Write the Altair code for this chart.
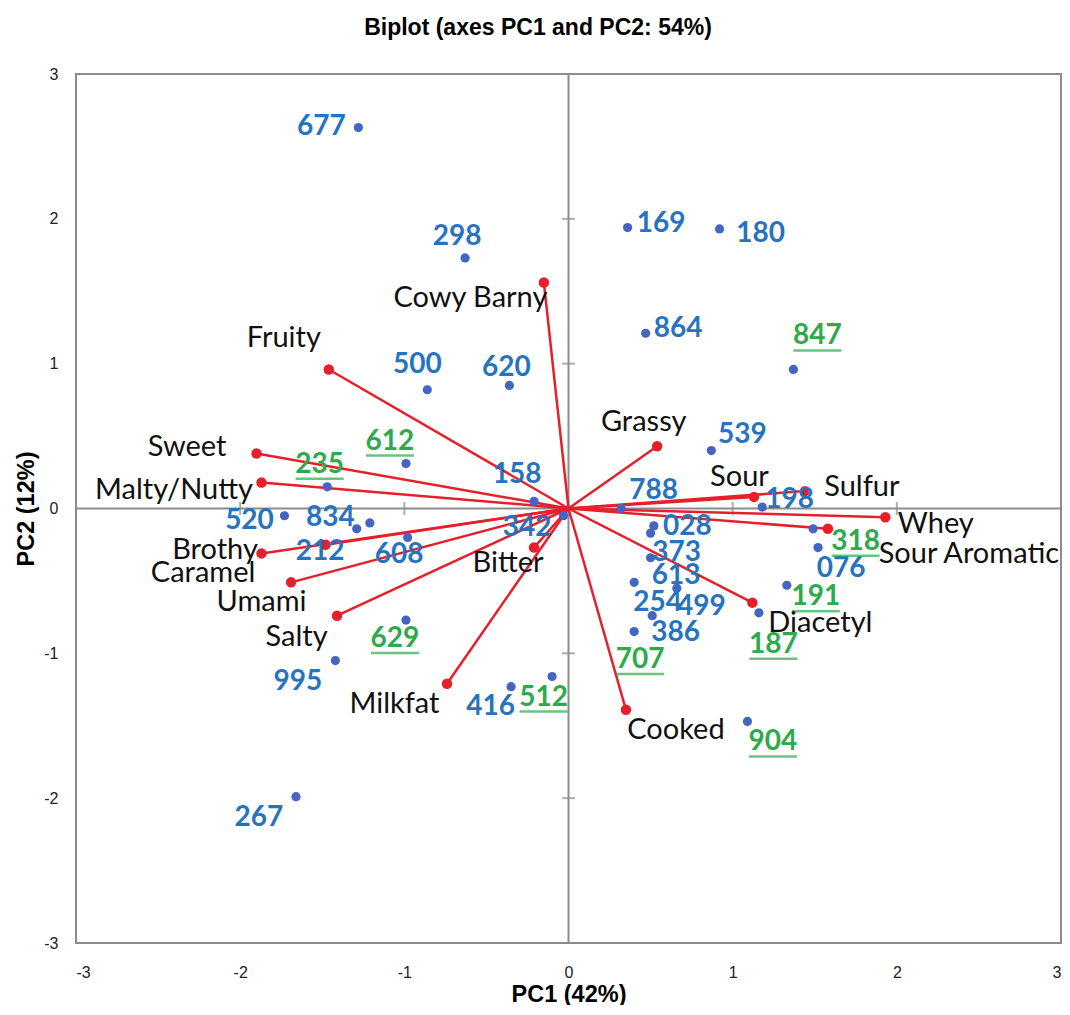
import altair as alt
import pandas as pd

# ---------------- data ----------------
obs_id = ["677", "298", "169", "180", "864", "847", "500", "620", "539", "612",
          "235", "158", "788", "198", "520", "834", "212", "608", "342", "028",
          "707", "373", "613", "499", "254", "386", "318", "076", "191", "187",
          "629", "995", "416", "512", "904", "267"]
obs_pc1 = [-1.28, -0.63, 0.36, 0.92, 0.47, 1.37, -0.86, -0.36, 0.87, -0.99,
           -1.47, -0.21, 0.32, 1.18, -1.73, -1.21, -1.29, -0.98, -0.03, 0.52,
           0.50, 0.50, 0.40, 0.66, 0.51, 0.40, 1.49, 1.52, 1.33, 1.16,
           -0.99, -1.42, -0.35, -0.10, 1.09, -1.66]
obs_pc2 = [2.63, 1.73, 1.94, 1.93, 1.21, 0.96, 0.82, 0.85, 0.40, 0.31,
           0.15, 0.05, 0.00, 0.01, -0.05, -0.10, -0.14, -0.20, -0.05, -0.12,
           -0.17, -0.34, -0.51, -0.55, -0.74, -0.85, -0.14, -0.27, -0.53, -0.72,
           -0.77, -1.05, -1.23, -1.16, -1.47, -1.99]
marked_ids = ["847", "612", "235", "707", "318", "191", "187", "629", "512", "904"]

attr_name = ["Cowy Barny", "Fruity", "Sweet", "Malty/Nutty", "Brothy", "Caramel",
             "Umami", "Salty", "Milkfat", "Bitter", "Grassy", "Sour", "Sulfur",
             "Whey", "Sour Aromatic", "Diacetyl", "Cooked"]
attr_pc1 = [-0.15, -1.46, -1.90, -1.87, -1.87, -1.69, -1.48, -1.41, -0.74, -0.21,
            0.54, 1.13, 1.44, 1.93, 1.58, 1.12, 0.35]
attr_pc2 = [1.56, 0.96, 0.38, 0.18, -0.31, -0.51, -0.25, -0.74, -1.21, -0.27,
            0.43, 0.08, 0.12, -0.06, -0.14, -0.65, -1.39]

axis_values = [-3, -2, -1, 0, 1, 2, 3]
inner_ticks = [-2, -1, 1, 2]

# ---------------- label placement (pixel offsets: right, down) ----------------
obs_dx = [-37, -8, 33.5, 41, 32.5, 24, -10, -3, 31, -16, -7.5, -17, 32.5, 27.5,
          -35, -39.5, -36.5, -8.5, -36.5, 33.5, -10.5, 26, 42, 24.5, 5.5, 41.5,
          42.5, 23, 29, 14.5, -11, -37.5, -20.5, -8.5, 25.5, -37]
obs_dy = [-1, -21, -4, 5, -4, -33, -25, -17, -16, -22, -22, -26, -18, -7, 5, -5,
          23, 18, 12, 1, 127, -5, -6, 19, -13, 1, 13, 21, 12, 32, 19, 21, 20, 21,
          21, 21]
attr_dx = [-73.5, -45, -69.5, -87.5, -46.5, -88, -64, -40.5, -52.5, -26, -13.5,
           -14.5, 57, 50.5, 141, 68, 50]
attr_dy = [15, -31, -6, 8, -3, -9, 57, 21, 20, 15, -24, -20, -4, 7, 25, 20, 20]

W, H = 985, 869
PX_X = W / 6.0
PX_Y = H / 6.0
UNDERLINE_DY = 14

GRAY = "#8C8C8C"
RED = "#E5202B"
DOT_BLUE = "#4466C0"
TXT_BLUE = "#2773BE"
TXT_GREEN = "#2DAA4B"
AX_FONT = "Liberation Sans, Arial, sans-serif"

obs = pd.DataFrame({"id": obs_id, "pc1": obs_pc1, "pc2": obs_pc2,
                    "dx": obs_dx, "dy": obs_dy})
obs["group"] = ["marked" if i in marked_ids else "plain" for i in obs["id"]]
obs["lx"] = obs["pc1"] + obs["dx"] / PX_X
obs["ly"] = obs["pc2"] - obs["dy"] / PX_Y
obs["uy"] = obs["ly"] - UNDERLINE_DY / PX_Y

attr = pd.DataFrame({"name": attr_name, "pc1": attr_pc1, "pc2": attr_pc2,
                     "dx": attr_dx, "dy": attr_dy})
attr["zero"] = 0.0
attr["lx"] = attr["pc1"] + attr["dx"] / PX_X
attr["ly"] = attr["pc2"] - attr["dy"] / PX_Y

xs = alt.Scale(domain=[-3, 3], nice=False, zero=False)
ys = alt.Scale(domain=[-3, 3], nice=False, zero=False)

x_axis = alt.Axis(values=axis_values, labelExpr="'' + datum.value", grid=False,
                  ticks=False, domain=False,
                  labelPadding=21, labelFontSize=16, labelFont=AX_FONT,
                  labelColor="#222222", title="PC1 (42%)", titleFontSize=23.5,
                  titleFont=AX_FONT, titleFontWeight="bold",
                  titleColor="#000000", titleX=W / 2, titleY=51, titleAlign="center",
                  titleBaseline="middle")
y_axis = alt.Axis(values=axis_values, labelExpr="'' + datum.value", grid=False,
                  ticks=False, domain=False,
                  labelPadding=18, labelFontSize=16, labelFont=AX_FONT,
                  labelColor="#222222", title="PC2 (12%)", titleFontSize=23.5,
                  titleFont=AX_FONT, titleFontWeight="bold",
                  titleColor="#000000", titleX=-50, titleY=H / 2, titleAlign="center",
                  titleBaseline="middle", titleAngle=-90)

base_obs = alt.Chart(obs)
base_attr = alt.Chart(attr)
zero_df = pd.DataFrame({"v": [0.0]})
tick_df = pd.DataFrame({"t": inner_ticks, "zero": [0.0] * len(inner_ticks)})

vline = alt.Chart(zero_df).mark_rule(color=GRAY, strokeWidth=2).encode(
    x=alt.X("v:Q", scale=xs, axis=x_axis))
hline = alt.Chart(zero_df).mark_rule(color=GRAY, strokeWidth=2).encode(
    y=alt.Y("v:Q", scale=ys, axis=y_axis))
xticks = alt.Chart(tick_df).mark_tick(orient="vertical", size=13, thickness=2, color=GRAY).encode(
    x=alt.X("t:Q", scale=xs), y=alt.Y("zero:Q", scale=ys))
yticks = alt.Chart(tick_df).mark_tick(orient="horizontal", size=13, thickness=2, color=GRAY).encode(
    x=alt.X("zero:Q", scale=xs), y=alt.Y("t:Q", scale=ys))

vectors = base_attr.mark_rule(color=RED, strokeWidth=2.5).encode(
    x=alt.X("zero:Q", scale=xs), y=alt.Y("zero:Q", scale=ys),
    x2="pc1:Q", y2="pc2:Q")
vec_dots = base_attr.mark_circle(color=RED, size=110, opacity=1).encode(
    x=alt.X("pc1:Q", scale=xs), y=alt.Y("pc2:Q", scale=ys))
obs_dots = base_obs.mark_circle(color=DOT_BLUE, size=85, opacity=1).encode(
    x=alt.X("pc1:Q", scale=xs), y=alt.Y("pc2:Q", scale=ys))

obs_text = base_obs.mark_text(font="Lato", fontSize=28, fontWeight="bold",
                              align="center", baseline="middle").encode(
    x=alt.X("lx:Q", scale=xs), y=alt.Y("ly:Q", scale=ys), text="id:N",
    color=alt.Color("group:N", scale=alt.Scale(domain=["plain", "marked"],
                                               range=[TXT_BLUE, TXT_GREEN]), legend=None))
underline = base_obs.transform_filter(alt.datum.group == "marked").mark_tick(
    orient="horizontal", size=48, thickness=2.5, color=TXT_GREEN).encode(
    x=alt.X("lx:Q", scale=xs), y=alt.Y("uy:Q", scale=ys))
attr_text = base_attr.mark_text(font="Lato", fontSize=29, color="#111111",
                                align="center", baseline="middle").encode(
    x=alt.X("lx:Q", scale=xs), y=alt.Y("ly:Q", scale=ys), text="name:N")

chart = alt.layer(vline, hline, xticks, yticks, vectors, vec_dots, obs_dots,
                  obs_text, underline, attr_text).properties(
    width=W, height=H,
    title=alt.TitleParams("Biplot (axes PC1 and PC2: 54%)", font=AX_FONT,
                          fontSize=23, fontWeight="bold", color="#000000",
                          anchor="middle", frame="bounds", offset=26),
    padding={"left": 68, "top": 66, "right": 1, "bottom": 62},
    autosize="none",
).configure_view(stroke=GRAY, strokeWidth=2)

chart.save("out.html", embed_options={"renderer": "svg", "actions": False})
